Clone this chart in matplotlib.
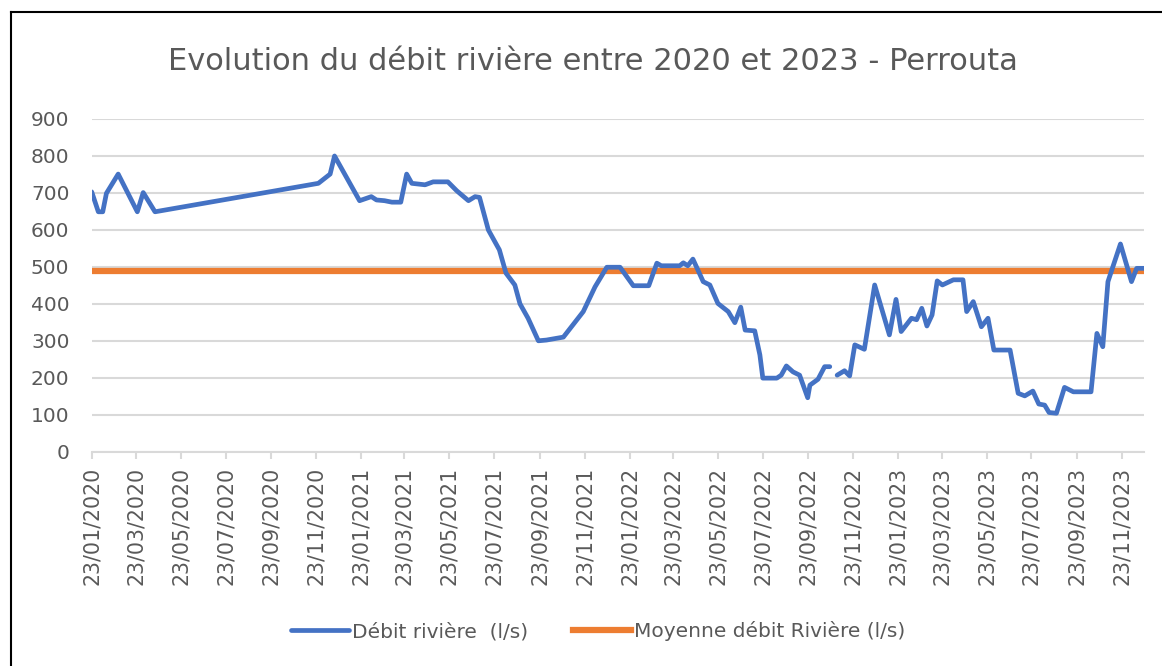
import numpy as np
import pandas as pd
import matplotlib
matplotlib.use("Agg")
import matplotlib.pyplot as plt
import matplotlib.dates as mdates
from matplotlib.lines import Line2D

# ---- data ----
start_date = "2020-01-23"
day_offsets = [0, 9, 15, 20, 36, 62, 70, 86, 308, 324, 330, 364, 380, 387, 398, 408, 420, 428,
               435, 453, 464, 484, 496, 512, 521, 527, 539, 554, 563, 575, 582, 593, 607, 618,
               641, 668, 684, 700, 718, 736, 757, 768, 774, 799, 804, 810, 817, 831, 840, 851,
               865, 874, 882, 888, 901, 908, 912, 931, 937, 944, 953, 962, 973, 976, 987, 996,
               1003, 1008, 1013, 1023, 1030, 1037, 1050, 1064, 1084, 1093, 1100, 1114, 1121,
               1128, 1135, 1142, 1149, 1156, 1171, 1184, 1189, 1198, 1209, 1218, 1226, 1248,
               1259, 1268, 1279, 1287, 1295, 1301, 1311, 1322, 1334, 1358, 1366, 1374, 1381,
               1398, 1413, 1420, 1430]
debit = [703, 649, 649, 699, 751, 649, 701, 649, 726, 751, 800, 679, 690, 681, 679, 675, 675, 751,
         726, 722, 730, 730, 706, 679, 690, 688, 600, 546, 483, 451, 400, 361, 300, 302,
         310, 379, 446, 499, 499, 449, 449, 510, 503, 503, 511, 503, 521, 460, 451, 401,
         379, 349, 391, 329, 327, 262, 199, 199, 207, 232, 216, 207, 146, 180, 196, 230,
         230, np.nan, 207, 219, 205, 289, 277, 451, 316, 412, 325, 361, 357,
         388, 340, 370, 462, 451, 465, 465, 379, 406, 338, 361, 275, 275,
         158, 151, 164, 129, 126, 106, 104, 174, 162, 162, 320, 284, 460,
         562, 460, 496, 496]
moyenne = 490
y_ticks = [0, 100, 200, 300, 400, 500, 600, 700, 800, 900]
title = "Evolution du débit rivière entre 2020 et 2023 - Perrouta"
label_debit = "Débit rivière  (l/s)"
label_moy = "Moyenne débit Rivière (l/s)"

dates = pd.Timestamp(start_date) + pd.to_timedelta(day_offsets, unit="D")

# ---- figure ----
W, H = 1162, 666
fig = plt.figure(figsize=(W / 100, H / 100), dpi=100)
plt.rcParams['font.family'] = ['DejaVu Sans']
txt = "#595959"
grid = "#D9D9D9"

ax = fig.add_axes([91.7 / W, 1 - 451.7 / H, (1144 - 91.7) / W, (451.7 - 119) / H])

ax.plot(dates, debit, color="#4472C4", lw=3.4, solid_joinstyle="round",
        solid_capstyle="round", label=label_debit, zorder=3)
ax.plot([dates[0], dates[-1]], [moyenne, moyenne], color="#ED7D31", lw=4.5,
        label=label_moy, zorder=2)

ax.set_xlim(dates[0], dates[-1])
ax.set_ylim(0, 900)
ax.set_yticks(y_ticks)
ax.yaxis.grid(True, color=grid, lw=1.5)
ax.set_axisbelow(True)
for s in ["top", "right", "left"]:
    ax.spines[s].set_visible(False)
ax.spines["bottom"].set_color(grid)
ax.spines["bottom"].set_linewidth(1.5)

ax.xaxis.set_major_locator(mdates.MonthLocator(bymonth=[1, 3, 5, 7, 9, 11], bymonthday=23))
ax.xaxis.set_major_formatter(mdates.DateFormatter("%d/%m/%Y"))
ax.tick_params(axis="x", direction="out", length=5, width=1.5, color=grid,
               labelsize=14.8, labelcolor=txt, pad=6, labelrotation=90)
ax.tick_params(axis="y", length=0, labelsize=14.5, labelcolor=txt, pad=16)

fig.text(593 / W, 1 - 62 / H, title, ha="center", va="center", fontsize=22, color=txt)

fig.legend(loc="center", bbox_to_anchor=(598 / W, 1 - 631 / H), ncol=2, frameon=False,
           fontsize=14.5, labelcolor=txt, handlelength=2.9, handletextpad=0.15,
           columnspacing=2.2)

# outer frame (top and left visible)
fig.add_artist(Line2D([11 / W, 1.0], [1 - 12 / H, 1 - 12 / H], transform=fig.transFigure,
                      color="black", lw=1.5))
fig.add_artist(Line2D([11 / W, 11 / W], [0, 1 - 12 / H], transform=fig.transFigure,
                      color="black", lw=1.5))

fig.savefig("out.png", dpi=100, facecolor="white")
